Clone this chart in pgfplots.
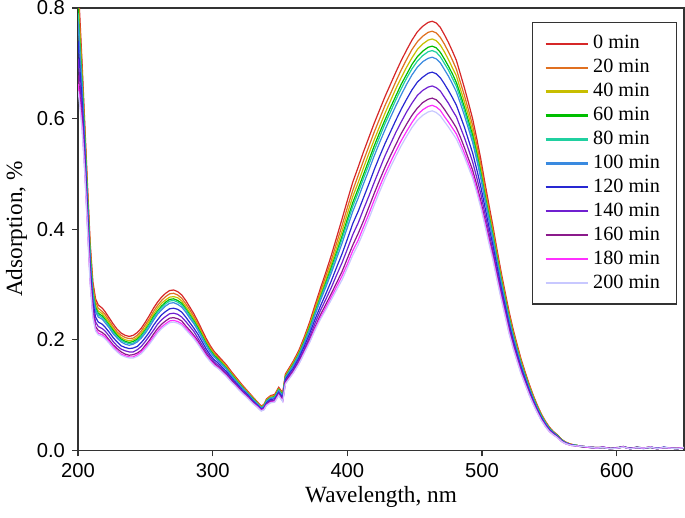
\documentclass[border=0pt]{standalone}
\usepackage{fontspec}
\setmainfont{Liberation Serif}
\newfontfamily\ticksans{Liberation Sans}
\usepackage{pgfplots}
\usepackage{pgfplotstable}
\pgfplotsset{compat=1.18}
\definecolor{colA}{RGB}{214,39,40}
\definecolor{colB}{RGB}{224,112,32}
\definecolor{colC}{RGB}{200,190,0}
\definecolor{colD}{RGB}{0,190,0}
\definecolor{colE}{RGB}{32,208,160}
\definecolor{colF}{RGB}{58,138,224}
\definecolor{colG}{RGB}{40,40,210}
\definecolor{colH}{RGB}{112,32,208}
\definecolor{colI}{RGB}{139,26,139}
\definecolor{colJ}{RGB}{255,48,255}
\definecolor{colK}{RGB}{200,200,255}
\pgfplotstableread{
wl s0 s20 s40 s60 s80 s100 s120 s140 s160 s180 s200
200 .860 .837 .818 .801 .791 .776 .740 .709 .679 .663 .650
201 .800 .781 .766 .752 .744 .732 .703 .678 .654 .640 .630
203 .700 .687 .676 .666 .660 .652 .632 .614 .597 .587 .580
205 .590 .580 .572 .565 .560 .554 .539 .525 .513 .505 .500
207 .480 .471 .464 .458 .454 .448 .434 .422 .411 .405 .400
209 .375 .367 .360 .354 .350 .345 .332 .321 .310 .304 .300
211 .305 .298 .292 .287 .284 .279 .268 .258 .249 .244 .240
213 .274 .268 .262 .258 .255 .251 .241 .232 .224 .219 .216
215 .263 .257 .252 .248 .245 .241 .232 .224 .217 .212 .209
218 .257 .251 .247 .243 .240 .237 .228 .220 .213 .209 .206
220 .251 .246 .241 .237 .235 .231 .223 .216 .209 .205 .202
223 .240 .235 .231 .227 .225 .222 .214 .207 .200 .197 .194
226 .229 .224 .220 .217 .214 .211 .204 .197 .191 .188 .185
229 .219 .214 .211 .208 .205 .203 .196 .189 .184 .180 .178
232 .212 .208 .204 .201 .199 .196 .189 .183 .178 .174 .172
235 .208 .204 .200 .197 .195 .192 .186 .180 .174 .171 .169
238 .206 .202 .198 .195 .193 .190 .184 .178 .172 .169 .167
241 .208 .203 .200 .197 .194 .192 .185 .178 .173 .169 .167
244 .213 .208 .204 .201 .199 .196 .188 .182 .176 .173 .170
247 .221 .216 .212 .208 .206 .203 .195 .188 .181 .178 .175
250 .232 .227 .222 .218 .216 .212 .204 .197 .190 .186 .183
253 .244 .238 .234 .229 .227 .223 .214 .207 .199 .195 .192
256 .257 .251 .246 .242 .239 .235 .226 .217 .210 .205 .202
259 .268 .262 .257 .252 .250 .246 .236 .228 .220 .215 .212
262 .277 .271 .266 .261 .258 .254 .245 .236 .228 .223 .220
265 .284 .278 .272 .268 .265 .261 .251 .242 .234 .229 .226
268 .289 .283 .277 .273 .270 .266 .256 .247 .239 .234 .231
271 .290 .284 .278 .274 .271 .267 .257 .248 .240 .235 .232
274 .287 .281 .276 .271 .268 .264 .255 .246 .238 .233 .230
277 .281 .275 .270 .266 .263 .259 .250 .241 .234 .229 .226
280 .271 .265 .260 .256 .254 .250 .241 .233 .225 .221 .218
283 .259 .254 .249 .245 .243 .239 .231 .224 .217 .213 .210
286 .247 .242 .238 .234 .232 .229 .221 .215 .208 .205 .202
289 .233 .228 .225 .222 .219 .217 .210 .203 .198 .194 .192
292 .218 .214 .211 .208 .206 .203 .197 .191 .186 .183 .181
295 .203 .199 .196 .194 .192 .190 .184 .179 .175 .172 .170
298 .190 .187 .184 .182 .180 .178 .173 .169 .165 .163 .161
301 .179 .176 .174 .172 .170 .169 .164 .160 .157 .155 .153
304 .171 .168 .166 .165 .163 .162 .158 .154 .151 .149 .148
307 .163 .161 .159 .157 .156 .154 .150 .147 .144 .142 .141
310 .155 .153 .151 .149 .148 .147 .143 .140 .137 .135 .134
314 .142 .140 .138 .137 .136 .134 .131 .128 .126 .124 .123
318 .130 .128 .127 .125 .124 .123 .120 .118 .115 .114 .113
322 .118 .116 .115 .114 .113 .112 .109 .107 .105 .104 .103
326 .107 .106 .104 .103 .103 .102 .100 .098 .096 .095 .094
330 .096 .095 .094 .093 .092 .091 .089 .087 .086 .085 .084
333 .088 .087 .086 .085 .085 .084 .082 .081 .079 .079 .078
336 .080 .079 .078 .077 .077 .076 .075 .074 .072 .072 .071
338 .083 .082 .081 .080 .080 .079 .077 .076 .074 .074 .073
340 .093 .092 .091 .090 .089 .088 .086 .084 .083 .082 .081
343 .099 .098 .096 .095 .095 .094 .092 .090 .088 .087 .086
346 .101 .099 .098 .097 .096 .095 .093 .091 .089 .088 .087
349 .114 .112 .111 .110 .109 .108 .105 .103 .101 .100 .099
352 .104 .102 .101 .100 .099 .098 .095 .092 .090 .089 .088
354 .138 .136 .134 .133 .132 .131 .128 .125 .123 .121 .120
357 .150 .148 .146 .144 .143 .142 .139 .136 .133 .131 .130
360 .162 .160 .158 .156 .155 .153 .149 .146 .143 .141 .140
364 .181 .178 .176 .174 .173 .171 .167 .163 .159 .157 .156
368 .205 .202 .199 .197 .195 .193 .188 .183 .179 .177 .175
372 .232 .228 .225 .222 .220 .217 .211 .205 .200 .197 .195
376 .263 .258 .254 .250 .248 .245 .237 .230 .223 .220 .217
380 .293 .287 .282 .277 .275 .271 .261 .253 .245 .240 .237
384 .322 .315 .308 .303 .300 .295 .283 .273 .264 .258 .254
388 .352 .343 .336 .330 .326 .320 .306 .294 .283 .277 .272
392 .385 .375 .366 .358 .354 .347 .331 .317 .303 .296 .290
396 .418 .406 .396 .387 .382 .374 .355 .339 .323 .315 .308
400 .452 .439 .428 .418 .412 .403 .382 .364 .347 .337 .330
404 .485 .470 .459 .448 .441 .432 .410 .390 .371 .361 .353
408 .512 .497 .484 .473 .466 .456 .432 .411 .392 .380 .372
412 .540 .524 .511 .499 .492 .482 .457 .436 .415 .404 .395
416 .566 .550 .537 .525 .517 .507 .482 .460 .440 .428 .419
420 .592 .576 .562 .551 .543 .533 .508 .485 .465 .453 .444
424 .616 .600 .586 .575 .567 .557 .532 .509 .489 .477 .468
428 .640 .624 .610 .598 .591 .580 .555 .533 .512 .500 .491
432 .662 .645 .632 .620 .612 .602 .576 .554 .533 .521 .512
436 .684 .667 .654 .641 .634 .623 .597 .575 .553 .541 .532
440 .705 .688 .674 .662 .654 .643 .617 .594 .573 .560 .551
444 .724 .707 .693 .680 .673 .662 .635 .612 .590 .577 .568
448 .742 .725 .710 .698 .690 .679 .652 .628 .606 .593 .584
452 .757 .739 .725 .712 .704 .693 .666 .642 .619 .607 .597
456 .767 .749 .735 .722 .714 .703 .675 .651 .629 .616 .606
460 .774 .756 .742 .729 .721 .709 .682 .657 .635 .622 .612
463 .776 .758 .744 .731 .723 .711 .684 .659 .637 .624 .614
466 .773 .755 .741 .728 .720 .708 .681 .656 .634 .621 .611
469 .765 .747 .733 .720 .712 .701 .674 .650 .627 .615 .605
472 .752 .735 .721 .708 .700 .689 .663 .639 .617 .604 .595
475 .738 .721 .707 .695 .688 .677 .651 .628 .606 .594 .585
478 .722 .706 .692 .681 .673 .663 .638 .615 .595 .583 .574
481 .705 .689 .677 .665 .658 .648 .624 .603 .583 .572 .563
484 .680 .665 .653 .643 .636 .627 .604 .584 .566 .555 .547
487 .655 .641 .630 .620 .614 .605 .584 .565 .547 .537 .530
490 .628 .615 .605 .595 .589 .581 .561 .544 .527 .518 .511
493 .600 .588 .578 .570 .564 .557 .538 .522 .507 .498 .492
496 .565 .554 .545 .538 .533 .526 .509 .494 .481 .473 .467
499 .528 .518 .510 .503 .499 .493 .478 .465 .452 .445 .440
502 .486 .477 .470 .464 .460 .455 .442 .430 .419 .413 .408
505 .446 .438 .432 .426 .423 .418 .406 .396 .386 .380 .376
508 .407 .400 .395 .390 .387 .382 .372 .362 .354 .349 .345
511 .365 .359 .354 .350 .347 .343 .334 .325 .318 .313 .310
514 .325 .320 .315 .311 .309 .305 .297 .290 .283 .279 .276
517 .288 .283 .279 .276 .273 .270 .263 .256 .250 .247 .244
520 .252 .248 .244 .241 .239 .236 .229 .223 .218 .214 .212
523 .220 .216 .213 .210 .208 .206 .200 .195 .190 .187 .185
526 .192 .189 .186 .183 .182 .180 .174 .170 .165 .163 .161
529 .165 .162 .160 .157 .156 .154 .150 .146 .142 .140 .138
532 .142 .139 .137 .136 .134 .133 .129 .125 .122 .120 .119
535 .120 .118 .116 .114 .113 .112 .109 .106 .103 .101 .100
538 .100 .098 .097 .095 .094 .093 .090 .088 .085 .084 .083
541 .082 .080 .079 .078 .077 .076 .074 .072 .070 .069 .068
544 .066 .065 .064 .063 .062 .061 .059 .057 .056 .055 .054
547 .053 .052 .051 .050 .050 .049 .047 .046 .044 .044 .043
550 .042 .041 .040 .040 .039 .039 .037 .036 .035 .034 .034
553 .034 .033 .033 .032 .032 .032 .031 .030 .029 .028 .028
556 .028 .027 .027 .027 .026 .026 .025 .024 .024 .023 .023
559 .020 .020 .019 .019 .019 .018 .018 .017 .017 .016 .016
562 .015 .015 .014 .014 .014 .014 .013 .013 .012 .012 .012
566 .011 .011 .011 .010 .010 .010 .010 .010 .009 .009 .009
570 .009 .009 .009 .009 .009 .009 .008 .008 .008 .008 .008
575 .007 .007 .006 .007 .007 .006 .007 .007 .006 .007 .007
580 .006 .006 .006 .005 .006 .006 .005 .006 .006 .005 .006
585 .004 .004 .005 .004 .004 .005 .004 .004 .005 .004 .004
590 .005 .005 .005 .006 .005 .005 .006 .005 .005 .006 .005
595 .003 .003 .003 .003 .004 .003 .003 .003 .004 .003 .003
600 .004 .004 .005 .004 .004 .004 .005 .004 .004 .004 .004
605 .006 .006 .006 .007 .006 .006 .006 .007 .006 .006 .006
610 .003 .003 .004 .003 .003 .003 .004 .003 .003 .003 .003
615 .005 .005 .005 .005 .006 .005 .005 .005 .006 .005 .005
620 .004 .004 .004 .004 .004 .003 .004 .004 .004 .004 .004
625 .006 .006 .006 .005 .006 .006 .006 .005 .006 .006 .006
630 .003 .003 .003 .003 .003 .004 .003 .003 .003 .003 .003
635 .005 .005 .005 .005 .005 .005 .006 .005 .005 .005 .005
640 .004 .004 .004 .004 .004 .004 .004 .004 .004 .004 .004
645 .003 .003 .003 .004 .003 .003 .003 .003 .003 .004 .003
650 .005 .005 .005 .005 .005 .005 .005 .005 .005 .005 .005
}\spectra
\begin{document}
\begin{tikzpicture}
\begin{axis}[
  scale only axis,
  width=300pt, height=219pt,
  xmin=200, xmax=650, ymin=0, ymax=0.8,
  xtick={200,300,400,500,600},
  ytick={0,0.2,0.4,0.6,0.8},
  tick align=outside,
  xtick pos=left, ytick pos=left,
  major tick length=3pt,
  axis line style={black!80, line width=0.6pt},
  every tick/.style={black!80, line width=0.6pt},
  /pgf/number format/assume math mode=true,
  ticklabel style={font=\ticksans\fontsize{10pt}{12pt}\selectfont},
  yticklabel style={/pgf/number format/.cd, fixed, fixed zerofill, precision=1},
  xticklabel style={/pgf/number format/.cd, fixed, 1000 sep={}},
  xlabel={Wavelength, nm},
  ylabel={Adsorption, \%},
  label style={font=\fontsize{11.5pt}{13pt}\selectfont},
  xlabel style={yshift=2.5pt},
  ylabel style={yshift=-2pt},
  legend cell align=left,
  legend image code/.code={\draw[#1, line width=1.1pt] (0pt,0pt) -- (21pt,0pt);},
  legend style={at={(0.988,0.968)}, anchor=north east, draw=black!80, line width=0.6pt,
    font=\fontsize{10pt}{12pt}\selectfont, row sep=-0.3pt, inner xsep=6pt, inner ysep=4.3pt},
  every axis plot/.append style={line width=0.6pt},
]
\addplot[colA] table[x=wl,y=s0]{\spectra};
\addplot[colB] table[x=wl,y=s20]{\spectra};
\addplot[colC] table[x=wl,y=s40]{\spectra};
\addplot[colD] table[x=wl,y=s60]{\spectra};
\addplot[colE] table[x=wl,y=s80]{\spectra};
\addplot[colF] table[x=wl,y=s100]{\spectra};
\addplot[colG] table[x=wl,y=s120]{\spectra};
\addplot[colH] table[x=wl,y=s140]{\spectra};
\addplot[colI] table[x=wl,y=s160]{\spectra};
\addplot[colJ] table[x=wl,y=s180]{\spectra};
\addplot[colK] table[x=wl,y=s200]{\spectra};
\legend{0 min,20 min,40 min,60 min,80 min,100 min,120 min,140 min,160 min,180 min,200 min}
\end{axis}
\pgfresetboundingbox
\path[use as bounding box] ([xshift=-38.65pt,yshift=3.96pt]current axis.north west) rectangle ([xshift=0.5pt,yshift=-33.24pt]current axis.south east);
\end{tikzpicture}
\end{document}
